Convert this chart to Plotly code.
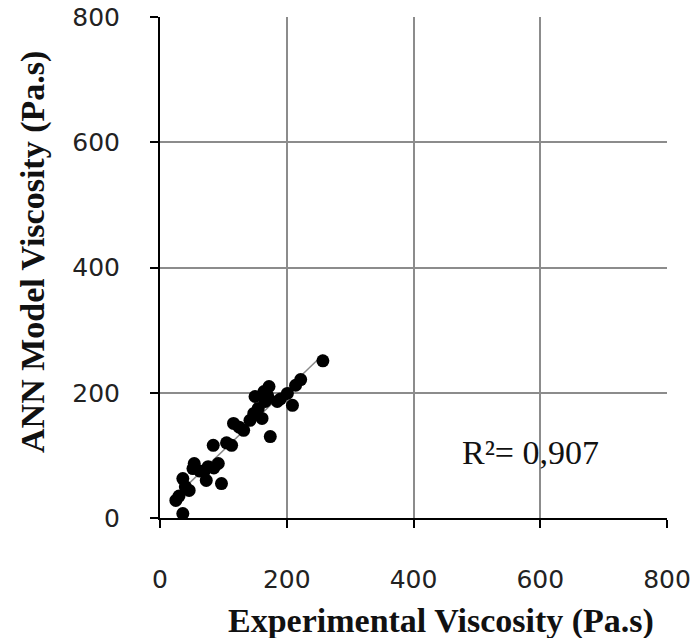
import numpy as np
import plotly.graph_objects as go

# Experimental viscosity (Pa.s) vs ANN model viscosity (Pa.s)
experimental = [257, 222, 214, 209, 201, 185, 172, 164, 150, 166, 174, 161, 148, 142,
                132, 116, 113, 84, 92, 76, 54, 52, 73, 97, 36, 46, 25, 36,
                155, 125, 190, 63, 40, 30, 105, 170, 85, 70]
ann_model = [251, 221, 212, 180, 199, 186, 210, 202, 194, 186, 130, 159, 167, 156,
             140, 151, 116, 116, 87, 82, 87, 79, 60, 55, 63, 44, 28, 7,
             175, 145, 190, 75, 50, 35, 120, 195, 80, 75]
r2_label = "R²= 0,907"
x_title = "Experimental Viscosity (Pa.s)"
y_title = "ANN Model Viscosity (Pa.s)"
x_ticks = [0, 200, 400, 600, 800]
y_ticks = [0, 200, 400, 600, 800]

xa = np.array(experimental, dtype=float)
ya = np.array(ann_model, dtype=float)
slope, intercept = np.polyfit(xa, ya, 1)
xl = np.array([xa.min(), xa.max()])
yl = slope * xl + intercept

fig = go.Figure()
fig.add_trace(go.Scatter(x=xl, y=yl, mode="lines",
                         line=dict(color="#8a8a8a", width=1.5),
                         showlegend=False, hoverinfo="skip"))
fig.add_trace(go.Scatter(x=experimental, y=ann_model, mode="markers",
                         marker=dict(color="black", size=13),
                         showlegend=False))

serif = "Liberation Serif"
fig.add_annotation(x=584, y=105, xref="x", yref="y", text=r2_label, showarrow=False,
                   font=dict(family=serif, size=34, color="#111111"))
fig.add_annotation(x=0.554, y=-0.206, xref="paper", yref="paper", text="<b>" + x_title + "</b>",
                   showarrow=False, xanchor="center", yanchor="middle",
                   font=dict(family=serif, size=34, color="#111111"))
fig.add_annotation(x=-0.2505, y=0.531, xref="paper", yref="paper", text="<b>" + y_title + "</b>",
                   showarrow=False, xanchor="center", yanchor="middle", textangle=-90,
                   font=dict(family=serif, size=34, color="#111111"))

axis_common = dict(
    showgrid=True, gridcolor="#8c8c8c", gridwidth=2,
    showline=True, linecolor="black", linewidth=2,
    ticks="outside", ticklen=8, tickwidth=2, tickcolor="black",
    zeroline=False, automargin=False,
    tickfont=dict(family="DejaVu Sans", size=25, color="#222222"),
)

fig.update_xaxes(range=[0, 800], tickvals=x_ticks, ticklabelstandoff=30, **axis_common)
fig.update_yaxes(range=[0, 800], tickvals=y_ticks, ticklabelstandoff=25, **axis_common)

fig.update_layout(width=694, height=638,
                  margin=dict(l=160, r=27, t=17, b=120),
                  plot_bgcolor="white", paper_bgcolor="white")

fig.write_html("out.html")
